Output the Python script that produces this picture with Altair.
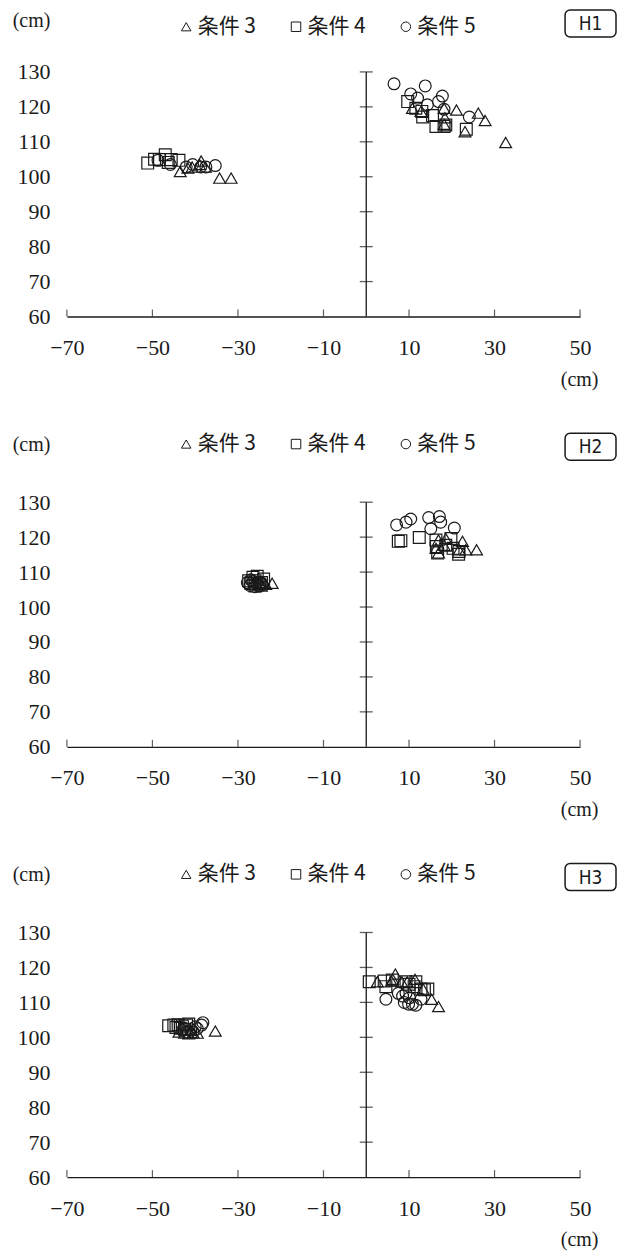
import altair as alt
import pandas as pd

CONDITIONS = ["条件 3", "条件 4", "条件 5"]
SHAPES = ["triangle-up", "square", "circle"]
PANEL_NAMES = ["H1", "H2", "H3"]
X_TICKS = [-70, -50, -30, -10, 10, 30, 50]
Y_LABELS = [60, 70, 80, 90, 100, 110, 120, 130]
Y_TICKS = [70, 80, 90, 100, 110, 120, 130]

# ---- H1 ----
H1_C3_X = [-43.5, -41.7, -40.7, -39.0, -38.6, -37.6, -34.3, -31.6,
           10.8, 12.8, 18.2, 18.4, 18.2, 21.1, 26.2, 27.8, 23.1, 32.6]
H1_C3_Y = [101.5, 102.5, 102.8, 103.5, 104.5, 102.8, 99.6, 99.6,
           119.6, 118.7, 119.6, 116.9, 115.0, 119.1, 118.2, 116.1, 112.9, 109.8]
H1_C4_X = [-51.1, -49.5, -48.4, -47.0, -46.3, -45.6, -43.8,
           9.7, 11.6, 13.0, 13.2, 15.5, 16.3, 18.2, 18.6, 23.4]
H1_C4_Y = [103.9, 105.0, 104.9, 106.3, 104.1, 104.9, 104.7,
           121.5, 119.6, 118.7, 117.1, 117.5, 114.4, 114.4, 114.8, 113.6]
H1_C5_X = [-48.7, -45.8, -42.1, -40.6, -38.7, -37.5, -35.3,
           6.5, 13.8, 10.4, 12.0, 14.3, 17.8, 16.9, 18.2, 24.1]
H1_C5_Y = [104.7, 103.5, 102.8, 103.5, 102.8, 102.8, 103.2,
           126.6, 126.0, 123.7, 122.5, 120.6, 123.1, 121.5, 119.3, 117.1]

# ---- H2 ----
H2_C3_X = [-26.5, -25.0, -24.0, -23.5, -22.0, -24.5,
           16.3, 16.9, 18.6, 18.2, 22.5, 23.3, 25.8, 16.9, 21.7]
H2_C3_Y = [106.5, 106.8, 107.0, 106.5, 106.8, 106.0,
           116.8, 119.2, 119.6, 117.7, 118.8, 116.4, 116.4, 115.5, 116.4]
H2_C4_X = [-27.5, -26.5, -25.5, -24.5, -26.0, -25.0, -27.0, -24.0, -26.0,
           7.5, 8.1, 12.4, 16.3, 16.4, 16.7, 19.8, 20.3, 21.7, 21.6, 18.6]
H2_C4_Y = [107.5, 108.5, 108.8, 107.0, 106.0, 106.5, 106.8, 108.0, 107.5,
           118.8, 119.0, 119.9, 119.2, 117.3, 115.5, 119.6, 116.8, 115.9, 115.1, 117.7]
H2_C5_X = [-27.8, -27.2, -26.5, -26.0, -25.5, -25.0, -24.5, -27.0,
           7.1, 9.3, 10.4, 14.6, 17.1, 17.4, 15.1, 20.6]
H2_C5_Y = [107.0, 106.2, 107.2, 105.8, 107.0, 106.0, 106.8, 107.8,
           123.5, 124.3, 125.2, 125.6, 125.9, 124.3, 122.4, 122.6]

# ---- H3 ----
H3_C3_X = [-43.8, -42.5, -41.5, -40.5, -39.5, -41.0, -35.3,
           2.6, 6.8, 5.9, 6.2, 8.3, 9.6, 11.4, 13.3, 15.3, 16.9]
H3_C3_Y = [101.5, 101.2, 101.0, 101.3, 101.2, 102.0, 101.8,
           115.9, 118.1, 116.1, 116.6, 115.9, 115.9, 116.6, 113.8, 110.9, 108.8]
H3_C4_X = [-46.2, -45.0, -44.0, -43.0, -42.0, -41.5, -43.5, -42.5, -44.5,
           0.7, 4.2, 4.6, 6.1, 9.3, 10.0, 11.2, 12.8, 13.6, 14.4, 11.6]
H3_C4_Y = [103.3, 103.5, 103.6, 103.2, 103.5, 103.8, 102.6, 102.3, 102.8,
           115.9, 116.1, 114.5, 116.4, 115.9, 115.2, 114.5, 113.8, 113.6, 113.8, 115.9]
H3_C5_X = [-43.0, -42.0, -41.0, -40.5, -39.5, -38.5, -38.2, -40.0,
           4.6, 7.5, 8.5, 9.3, 8.9, 9.9, 10.8, 11.6, 10.1, 12.8]
H3_C5_Y = [102.0, 101.5, 102.2, 101.5, 102.5, 103.5, 104.2, 103.0,
           110.9, 112.6, 111.8, 112.6, 110.0, 109.5, 109.5, 109.2, 111.3, 110.9]

PANEL_DATA = {
    "H1": [(H1_C3_X, H1_C3_Y), (H1_C4_X, H1_C4_Y), (H1_C5_X, H1_C5_Y)],
    "H2": [(H2_C3_X, H2_C3_Y), (H2_C4_X, H2_C4_Y), (H2_C5_X, H2_C5_Y)],
    "H3": [(H3_C3_X, H3_C3_Y), (H3_C4_X, H3_C4_Y), (H3_C5_X, H3_C5_Y)],
}

INK = "#1a1a1a"
SERIF = "Liberation Serif"
CJK = "Noto Sans CJK JP"
NARROW = "Liberation Sans Narrow, DejaVu Sans Condensed, Liberation Sans"
W, H = 514, 245

XS = alt.Scale(domain=[-70, 50], nice=False, zero=False)
YS = alt.Scale(domain=[60, 130], nice=False, zero=False)


def build_df(name):
    rows = []
    for cond, (xs, ys) in zip(CONDITIONS, PANEL_DATA[name]):
        for xv, yv in zip(xs, ys):
            rows.append({"x": xv, "y": yv, "cond": cond})
    return pd.DataFrame(rows)


def x_axis():
    return alt.Axis(
        values=X_TICKS,
        labelExpr="datum.value < 0 ? '−' + format(-datum.value, 'd') : format(datum.value, 'd')",
        domain=True, domainColor=INK, domainWidth=1.3,
        ticks=False, tickSize=0, grid=False, labelFlush=False,
        labelPadding=31, labelBaseline="middle",
        labelFont=SERIF, labelFontSize=22, labelColor=INK,
        title="(cm)", titleX=513, titleY=63, titleAlign="center",
        titleBaseline="middle", titleFont=SERIF, titleFontSize=20,
        titleFontWeight="normal", titleColor=INK)


def y_axis(top_shift):
    return alt.Axis(
        values=Y_LABELS, domain=False, ticks=False, tickSize=0, grid=False,
        labelPadding=17, labelFont=SERIF, labelFontSize=22, labelColor=INK,
        title="(cm)", titleAngle=0, titleX=-36, titleY=-58 + top_shift,
        titleAlign="center", titleBaseline="middle", titleFont=SERIF,
        titleFontSize=20, titleFontWeight="normal", titleColor=INK)


def panel(name, top_shift, legend_shift):
    df = build_df(name)
    xa, ya = x_axis(), y_axis(top_shift)

    def ex():
        return alt.X("x:Q", scale=XS, axis=xa)

    def ey():
        return alt.Y("y:Q", scale=YS, axis=ya)

    pts = alt.Chart(df).mark_point(
        filled=False, size=140, strokeWidth=1.2, opacity=1, color=INK
    ).encode(
        x=ex(), y=ey(),
        shape=alt.Shape("cond:N", scale=alt.Scale(domain=CONDITIONS, range=SHAPES),
                        legend=alt.Legend(
                            orient="none", legendX=109, legendY=-69 + legend_shift,
                            direction="horizontal", title=None,
                            symbolSize=90, symbolStrokeColor=INK, symbolStrokeWidth=1,
                            symbolFillColor="transparent", labelFont=CJK,
                            labelFontSize=21, labelColor=INK, columnPadding=29,
                            labelOffset=1)),
    )

    vaxis = alt.Chart(pd.DataFrame({"x": [0], "y": [Y_LABELS[0]], "y2": [Y_LABELS[-1]]})).mark_rule(
        color=INK, strokeWidth=1.3
    ).encode(x=ex(), y=ey(), y2="y2:Q")

    yticks = alt.Chart(pd.DataFrame({"x": [0] * len(Y_TICKS), "y": Y_TICKS})).mark_tick(
        orient="horizontal", size=13, thickness=1.3, color=INK
    ).encode(x=ex(), y=ey())

    xticks = alt.Chart(pd.DataFrame({"x": X_TICKS, "y": [Y_LABELS[0]] * len(X_TICKS)})).mark_tick(
        orient="vertical", size=7, thickness=1.2, color=INK, yOffset=-3.5
    ).encode(x=ex(), y=ey())

    lab = pd.DataFrame({"label": [name]})
    box = alt.Chart(lab).mark_rect(
        cornerRadius=5, fill="white", fillOpacity=0, stroke=INK, strokeWidth=1.5
    ).encode(x=alt.value(499), x2=alt.value(550),
             y=alt.value(-69 + top_shift), y2=alt.value(-42 + top_shift))
    boxtext = alt.Chart(lab).mark_text(
        font=NARROW, fontSize=19, color=INK, align="center", baseline="middle"
    ).encode(x=alt.value(524.5), y=alt.value(-55 + top_shift), text="label:N")

    return alt.layer(pts, vaxis, yticks, xticks, box, boxtext).properties(width=W, height=H)


chart = alt.vconcat(
    panel("H1", 7, 13), panel("H2", 0, 0), panel("H3", 0, 0),
    spacing=186, bounds="flush"
).resolve_legend(shape="independent").properties(
    padding={"left": 4, "top": 0, "right": 0, "bottom": 0}
).configure_view(stroke=None)

chart.save("out.html", embed_options={"renderer": "svg", "actions": False})
